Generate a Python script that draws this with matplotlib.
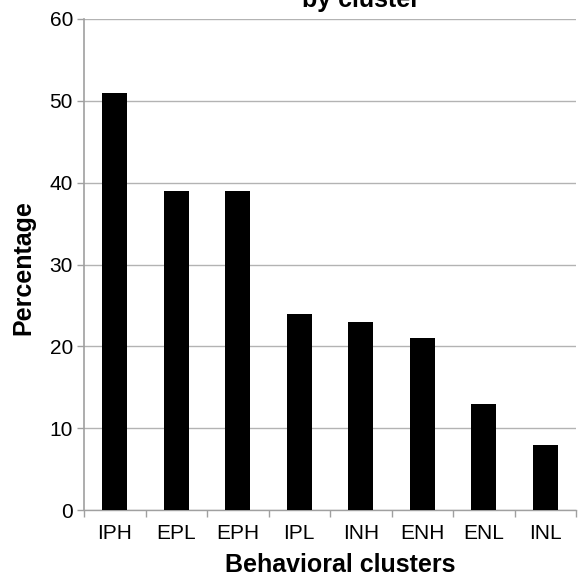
import matplotlib
matplotlib.use("Agg")
import matplotlib.pyplot as plt
import numpy as np

categories = ["IPH", "EPL", "EPH", "IPL", "INH", "ENH", "ENL", "INL"]
values = [51, 39, 39, 24, 23, 21, 13, 8]
yticks = [0, 10, 20, 30, 40, 50, 60]

plt.rcParams['font.family'] = ['Liberation Sans', 'DejaVu Sans']

fig = plt.figure(figsize=(5.8, 5.76), dpi=100)
W, H = 580, 576
ax = fig.add_axes([84 / W, (H - 510) / H, (576 - 84) / W, (510 - 19) / H])

x = np.arange(len(categories))
ax.bar(x, values, width=0.41, color="black", zorder=3)

ax.set_xlim(-0.5, len(categories) - 0.5)
ax.set_ylim(0, 60)
ax.set_yticks(yticks)
ax.set_yticklabels([str(t) for t in yticks], fontsize=15)
ax.yaxis.grid(True, color="#b3b3b3", linewidth=1.0, zorder=0)

ax.set_xticks(x)
ax.set_xticklabels(categories, fontsize=15)
ax.set_xticks(np.arange(len(categories) + 1) - 0.5, minor=True)
ax.tick_params(axis="x", which="major", length=0, pad=10)
ax.tick_params(axis="x", which="minor", length=5, color="#a0a0a0", width=1)
ax.tick_params(axis="y", length=5, color="#a0a0a0", width=1, pad=3)

for s in ["top", "right"]:
    ax.spines[s].set_visible(False)
ax.spines["left"].set_color("#a0a0a0")
ax.spines["left"].set_linewidth(1.2)
ax.spines["bottom"].set_color("#a0a0a0")
ax.spines["bottom"].set_linewidth(1.0)

xl = ax.set_xlabel("Behavioral clusters", fontsize=18, fontweight="bold")
ax.xaxis.set_label_coords((340 - 84) / 492, (510 - 565) / 491)
xl.set_va("center")
yl = ax.set_ylabel("Percentage", fontsize=18, fontweight="bold")
ax.yaxis.set_label_coords((23 - 84) / 492, (510 - 268) / 491)
yl.set_va("center")

fig.text(361 / W, 1 - 7 / H, "by cluster", ha="center", va="baseline",
         fontsize=18, fontweight="bold")

fig.savefig("out.png", dpi=100)
